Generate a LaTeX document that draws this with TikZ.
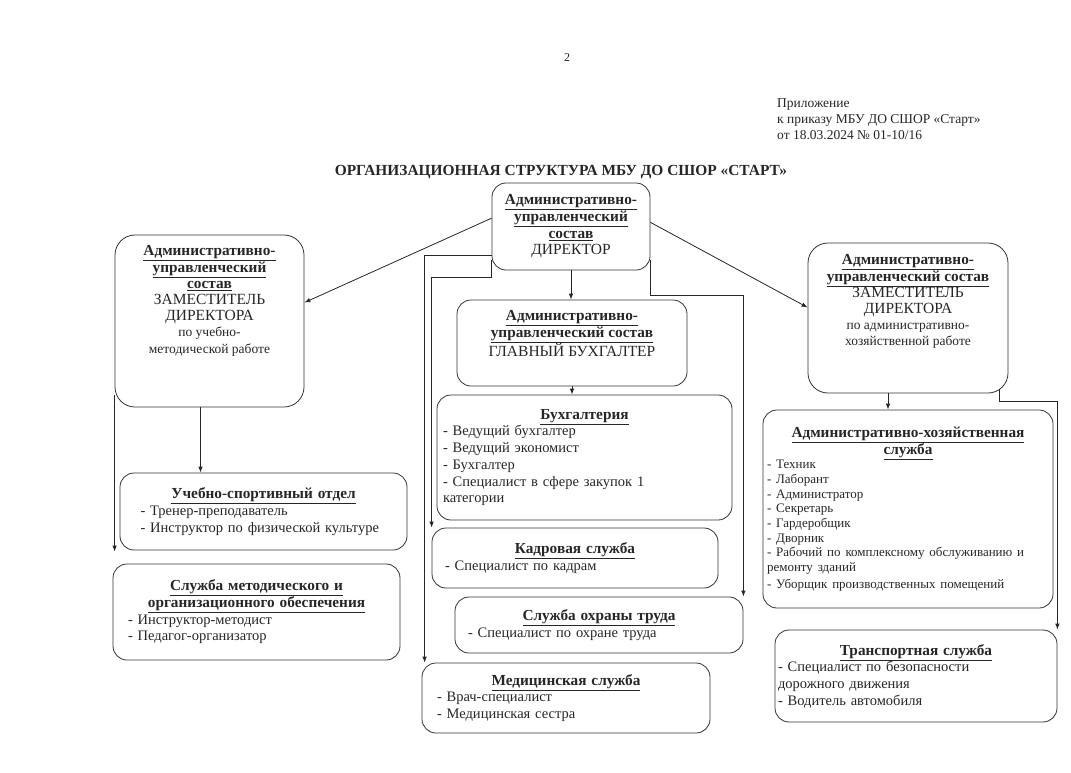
\documentclass[tikz,border=0pt]{standalone}
\usepackage{fontspec}
\setmainfont{Liberation Serif}
\usetikzlibrary{positioning,arrows.meta}

\newcommand{\zag}[1]{{\fontsize{15.3}{16.7}\selectfont\textbf{\underline{#1}}}}
\newcommand{\punkt}[1]{\makebox[\linewidth][l]{#1}}

\begin{document}
\begin{tikzpicture}[
        x=1pt, y=-1pt,
        every node/.style={
            font=\fontsize{14.5}{16.7}\selectfont,
            text=black!85
        },
        blok/.style={
            draw=black!80,
            line width=0.8pt,
            rounded corners=14pt,
            align=center,
            inner sep=0pt
        },
        zam/.style={blok, rounded corners=20pt},
        nadpis/.style={align=center, inner sep=0pt, font=\fontsize{15.5}{16.2}\selectfont},
        svyaz/.style={
            draw=black!85,
            line width=0.8pt,
            -{Latex[length=6pt,width=4.5pt]}
        },
        melko/.style={font=\fontsize{13}{14.5}\selectfont}
    ]
    \useasboundingbox (0,0) rectangle (1071,772);

    % шапка
    \node[font=\fontsize{12}{14}\selectfont] (nomer) at (567,58) {2};
    \node[align=left, anchor=north west, inner sep=0pt,
          font=\fontsize{13.5}{16}\selectfont] (prilozh) at (777,98)
        {Приложение\\ к приказу МБУ ДО СШОР «Старт»\\ от 18.03.2024 № 01-10/16};
    \node[font=\fontsize{15.4}{16}\selectfont\bfseries] (zagolovok) at (561,172)
        {ОРГАНИЗАЦИОННАЯ СТРУКТУРА МБУ ДО СШОР «СТАРТ»};

    % директор
    \node[blok, minimum width=158pt, minimum height=87pt,
          font=\fontsize{15.5}{16.7}\selectfont] (dir) at (571,226.5)
        {\zag{Административно-}\\ \zag{управленческий}\\ \zag{состав}\\ ДИРЕКТОР};

    % заместители и главный бухгалтер
    \node[zam, minimum width=189pt, minimum height=172pt] (zl) at (209.5,321) {};
    \node[nadpis, below=11pt of zl.north] (zltxt)
        {\zag{Административно-}\\ \zag{управленческий}\\ \zag{состав}\\
         ЗАМЕСТИТЕЛЬ\\ ДИРЕКТОРА\\
         {\fontsize{13.5}{14}\selectfont по учебно-}\\
         {\fontsize{13.5}{14}\selectfont методической работе}};

    \node[zam, minimum width=200pt, minimum height=150pt] (zr) at (908,318) {};
    \node[nadpis, below=12pt of zr.north] (zrtxt)
        {\zag{Административно-}\\ \zag{управленческий состав}\\
         ЗАМЕСТИТЕЛЬ\\ ДИРЕКТОРА\\
         {\fontsize{13.5}{14}\selectfont по административно-}\\
         {\fontsize{13.5}{14}\selectfont хозяйственной работе}};

    \node[blok, minimum width=230pt, minimum height=86pt] (gb) at (572,343) {};
    \node[nadpis, below=11pt of gb.north] (gbtxt)
        {\zag{Административно-}\\ \zag{управленческий состав}\\ ГЛАВНЫЙ БУХГАЛТЕР};

    % службы
    \node[blok, minimum width=295pt, minimum height=125pt, text width=283pt] (bk) at (584.5,457.5)
        {\zag{Бухгалтерия}\\ \punkt{- Ведущий бухгалтер}\\ \punkt{- Ведущий экономист}\\
         \punkt{- Бухгалтер}\\ \punkt{- Специалист в сфере закупок 1}\\ \punkt{категории}};
    \node[blok, minimum width=286pt, minimum height=60pt, text width=260pt] (kd) at (575,558)
        {\zag{Кадровая служба}\\ \punkt{- Специалист по кадрам}\\[4pt]};
    \node[blok, minimum width=288pt, minimum height=56pt, text width=262pt] (ot) at (599,625)
        {\zag{Служба охраны труда}\\ \punkt{- Специалист по охране труда}};
    \node[blok, minimum width=288pt, minimum height=70pt, text width=258pt] (md) at (566,698)
        {\zag{Медицинская служба}\\ \punkt{- Врач-специалист}\\ \punkt{- Медицинская сестра}};

    \node[blok, minimum width=287pt, minimum height=77pt, text width=246pt] (us) at (263.5,511.5)
        {\zag{Учебно-спортивный отдел}\\ \punkt{- Тренер-преподаватель}\\
         \punkt{- Инструктор по физической культуре}};
    \node[blok, minimum width=287pt, minimum height=96pt, text width=257pt] (sm) at (256.5,612)
        {\zag{Служба методического и}\\ \zag{организационного обеспечения}\\
         \punkt{- Инструктор-методист}\\ \punkt{- Педагог-организатор}\\[6pt]};

    \node[blok, minimum width=290pt, minimum height=198pt, text width=282pt] (ax) at (908,509)
        {\zag{Административно-хозяйственная}\\ \zag{служба}\\
         {\fontsize{13}{14.7}\selectfont
          \punkt{- Техник}\\ \punkt{- Лаборант}\\ \punkt{- Администратор}\\
          \punkt{- Секретарь}\\ \punkt{- Гардеробщик}\\ \punkt{- Дворник}\\
          \punkt{- Рабочий по комплексному обслуживанию и}\\ \punkt{ремонту зданий}\\
          \punkt{- Уборщик производственных помещений}}};
    \node[blok, minimum width=282pt, minimum height=92pt, text width=276pt] (tr) at (916,676)
        {\zag{Транспортная служба}\\ \punkt{- Специалист по безопасности}\\
         \punkt{дорожного движения}\\ \punkt{- Водитель автомобиля}};

    % связи
    \draw[svyaz] (dir.174) -- (zl.11);
    \draw[svyaz] (dir.3) -- (zr.174);
    \draw[svyaz] (dir.south) -- (dir.south |- gb.north);
    \draw[svyaz] (dir.200) -| ([xshift=3pt]md.north west);
    \draw[svyaz] ([yshift=10pt]dir.south west) -- ++(0,17) -| (kd.north west);
    \draw[svyaz] ([yshift=10pt]dir.south east) -- ++(0,35) -| (ot.north east);
    \draw[svyaz] (gb.south) -- (gb.south |- bk.north);
    \draw[svyaz] ([xshift=-9pt]zl.south) -- ([xshift=-9pt]zl.south |- us.north);
    \draw[svyaz] ([yshift=12pt]zl.south west) -- ([yshift=12pt]zl.south west |- sm.north);
    \draw[svyaz] ([xshift=-20pt]zr.south) -- ([xshift=-20pt]zr.south |- ax.north);
    \draw[svyaz] ([xshift=-9pt,yshift=4pt]zr.south east) -- ++(0,12) -| (tr.north east);
\end{tikzpicture}
\end{document}
